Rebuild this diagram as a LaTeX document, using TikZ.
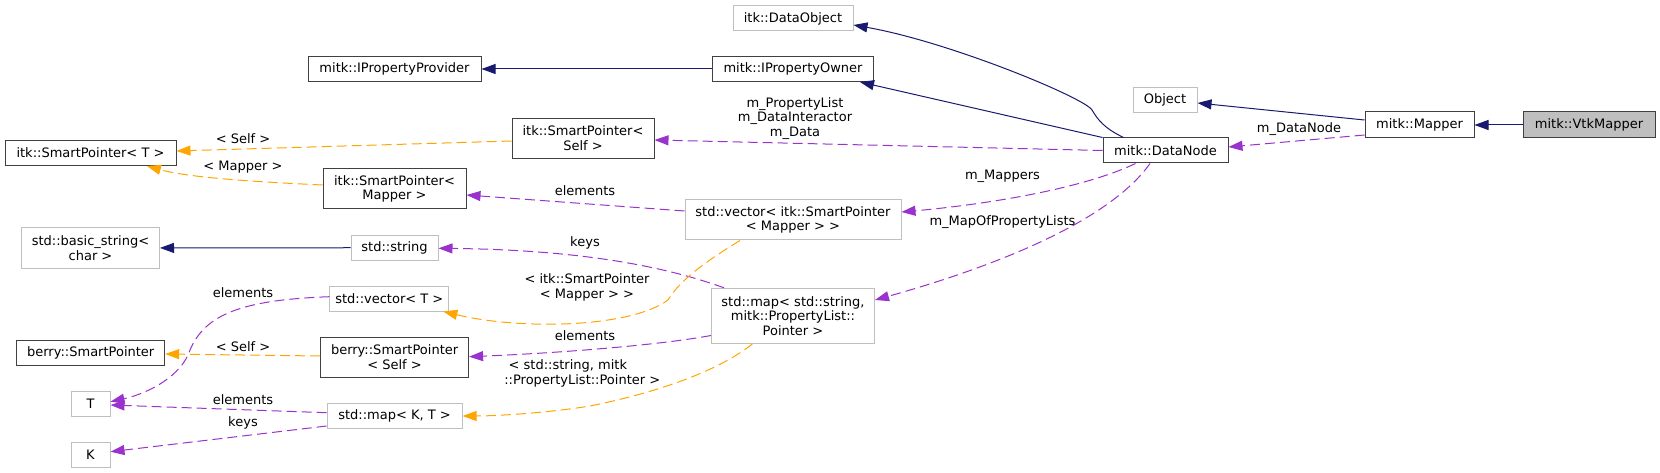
\documentclass[tikz,border=0pt]{standalone}
\usepackage{fontspec}
\setmainfont{DejaVu Sans}
\usetikzlibrary{arrows.meta, calc, positioning}

\definecolor{midnight}{HTML}{191970}
\definecolor{orchid}{HTML}{9A32CD}
\definecolor{tmplorange}{HTML}{FFA500}
\definecolor{grey75}{HTML}{BFBFBF}
\definecolor{boxline}{HTML}{404040}

\newcommand{\dxfont}{\fontsize{13}{14.4}\selectfont}

\tikzset{
  klass/.style={draw=boxline, fill=white, line width=1pt, inner sep=0pt, align=center, font=\dxfont, minimum height=25pt},
  undoc/.style={klass, draw=grey75},
  current/.style={klass, fill=grey75},
  inherit/.style={midnight, line width=1pt, -{Triangle[length=14pt,width=10pt]}},
  usage/.style={orchid, line width=1pt, dash pattern=on 10pt off 5pt, -{Triangle[length=14pt,width=10pt]}},
  instance/.style={tmplorange, line width=1pt, dash pattern=on 10pt off 5pt, -{Triangle[length=14pt,width=10pt]}},
  elabel/.style={font=\dxfont, align=center, inner sep=0pt}
}

\begin{document}
\begin{tikzpicture}[x=1pt, y=-1pt]
    \useasboundingbox (0,0) rectangle (1660,473);

    % classes
    \node[undoc, minimum width=120pt] (dataobject) at (793,18.5) {itk::DataObject};
    \node[klass, minimum width=173pt] (propprovider) at (394.5,69) {mitk::IPropertyProvider};
    \node[klass, minimum width=161pt] (propowner) at (793,69) {mitk::IPropertyOwner};
    \node[undoc, minimum width=64pt] (object) at (1165,100) {Object};
    \node[klass, minimum width=109pt, minimum height=26pt] (mapper) at (1419.5,125) {mitk::Mapper};
    \node[current, minimum width=132pt, minimum height=26pt] (vtkmapper) at (1589,125) {mitk::VtkMapper};
    \node[klass, minimum width=171pt] (smartT) at (90.5,153) {itk::SmartPointer< T >};
    \node[klass, minimum width=142pt, minimum height=40pt] (smartself) at (583,138.3) {itk::SmartPointer<\\Self >};
    \node[klass, minimum width=125pt] (datanode) at (1165.5,150.5) {mitk::DataNode};
    \node[klass, minimum width=143pt, minimum height=40pt] (smartmapper) at (394.5,189) {itk::SmartPointer<\\Mapper >};
    \node[undoc, minimum width=216pt, minimum height=40pt] (mappervec) at (793,220) {std::vector< itk::SmartPointer\\< Mapper > >};
    \node[undoc, minimum width=138pt, minimum height=40pt] (basicstring) at (90.5,248) {std::basic\_string<\\char >};
    \node[undoc, minimum width=87pt] (string) at (394.5,247.7) {std::string};
    \node[undoc, minimum width=119pt] (vectorT) at (389.3,298.5) {std::vector< T >};
    \node[undoc, minimum width=163pt, minimum height=55pt] (propmap) at (793,315.8) {std::map< std::string,\\mitk::PropertyList::\\Pointer >};
    \node[klass, minimum width=148pt] (berrysmart) at (90.7,353.3) {berry::SmartPointer};
    \node[klass, minimum width=148pt, minimum height=40pt] (berryself) at (394.6,357) {berry::SmartPointer\\< Self >};
    \node[undoc, minimum width=39pt] (typeT) at (90.5,403.5) {T};
    \node[undoc, minimum width=135pt] (mapKT) at (394.6,416) {std::map< K, T >};
    \node[undoc, minimum width=39pt] (typeK) at (90.5,454.5) {K};

    % inheritance
    \draw[inherit] (vtkmapper) -- (mapper);
    \draw[inherit] ($(mapper.west)+(0,-5)$) -- ($(object.east)+(0,3)$);
    \draw[inherit] ($(datanode.north west)+(21,0)$) .. controls (1104,128) and (1098,120) .. (1092,110) .. controls (1085,98) and (950,42) .. ($(dataobject.east)+(0,6.5)$);
    \draw[inherit] (datanode.north west) -- ($(propowner.south east)+(-14,0)$);
    \draw[inherit] (propowner) -- (propprovider);
    \draw[inherit] (string) -- (basicstring);

    % usage
    \draw[usage] ($(mapper.west)+(0,10)$) -- ($(datanode.east)+(0,-3.5)$);
    \node[elabel] (lbl-datanode) at (1299,129) {m\_DataNode};
    \draw[usage] (datanode.west) -- ($(smartself.east)+(0,1.7)$);
    \node[elabel] (lbl-props) at (795,118.3) {m\_PropertyList\\m\_DataInteractor\\m\_Data};
    \draw[usage] ($(datanode.south)+(-30,0)$) .. controls (1080,190) and (980,205) .. ($(mappervec.east)+(0,-8)$);
    \node[elabel] (lbl-mappers) at (1002.5,176) {m\_Mappers};
    \draw[usage] ($(datanode.south)+(-15.5,0)$) .. controls (1110,220) and (1000,265) .. ($(propmap.east)+(0,-15.8)$);
    \node[elabel] (lbl-maplists) at (1002.5,222) {m\_MapOfPropertyLists};
    \draw[usage] ($(mappervec.west)+(0,-9)$) -- ($(smartmapper.east)+(0,6)$);
    \node[elabel] (lbl-vecelem) at (585,191) {elements};
    \draw[usage] ($(propmap.north west)+(13,0)$) .. controls (680,272) and (600,250) .. ($(string.east)+(0,0.6)$);
    \node[elabel] (lbl-mapkeys) at (585,243) {keys};
    \draw[usage] ($(propmap.south west)+(0,-8.3)$) .. controls (660,345) and (560,353) .. ($(berryself.east)+(0,-0.3)$);
    \node[elabel] (lbl-mapelem) at (585,336) {elements};
    \draw[usage] ($(vectorT.west)+(0,-1.8)$) .. controls (240,300) and (205,315) .. (190,350) .. controls (182,375) and (150,393) .. ($(typeT.east)+(0,-1.8)$);
    \node[elabel] (lbl-velem) at (243,292.7) {elements};
    \draw[usage] ($(mapKT.west)+(0,-3.3)$) -- ($(typeT.east)+(0,1.5)$);
    \node[elabel] (lbl-kelem) at (243,400) {elements};
    \draw[usage] ($(mapKT.west)+(0,10)$) -- ($(typeK.east)+(0,-2.8)$);
    \node[elabel] (lbl-kkeys) at (243,422.7) {keys};

    % template instances
    \draw[instance] ($(smartself.west)+(0,2.7)$) -- ($(smartT.east)+(0,-2)$);
    \node[elabel] (lbl-tself) at (243,139) {< Self >};
    \draw[instance] ($(smartmapper.west)+(0,-4)$) .. controls (260,182) and (190,178) .. ($(smartT.south east)+(-29.6,0)$);
    \node[elabel] (lbl-tmapper) at (243,167) {< Mapper >};
    \draw[instance] ($(mappervec.south)+(-53,0)$) .. controls (705,262) and (680,280) .. (668,300) .. controls (630,328) and (520,330) .. ($(vectorT.south east)+(-6,0)$);
    \node[elabel] (lbl-tvec) at (587,287.5) {< itk::SmartPointer\\< Mapper > >};
    \draw[instance] ($(berryself.west)+(0,-1)$) -- ($(berrysmart.east)+(0,0.7)$);
    \node[elabel] (lbl-tberry) at (243,346.7) {< Self >};
    \draw[instance] ($(propmap.south)+(-40.5,0)$) .. controls (720,370) and (660,392) .. (590,406) .. controls (540,414) and (490,416) .. (mapKT.east);
    \node[elabel, align=left] (lbl-tmap) at (582.3,373.3) {\hspace*{4.3pt}< std::string, mitk\\::PropertyList::Pointer >};
\end{tikzpicture}
\end{document}
